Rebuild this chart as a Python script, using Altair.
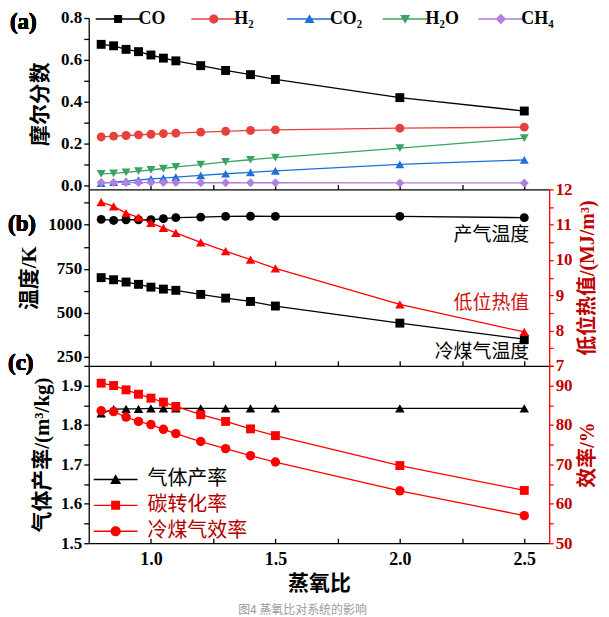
import altair as alt
import pandas as pd

# ---------------- data ----------------
steam_o2 = [0.8, 0.85, 0.9, 0.95, 1.0, 1.05, 1.1, 1.2, 1.3, 1.4, 1.5, 2.0, 2.5]

# (a) mole fractions
co = [0.674, 0.667, 0.650, 0.639, 0.623, 0.608, 0.595, 0.572, 0.549, 0.529, 0.506, 0.419, 0.355]
h2 = [0.231, 0.235, 0.238, 0.241, 0.244, 0.247, 0.249, 0.254, 0.258, 0.262, 0.265, 0.273, 0.278]
co2 = [0.010, 0.015, 0.020, 0.025, 0.030, 0.034, 0.039, 0.047, 0.055, 0.062, 0.069, 0.100, 0.121]
h2o = [0.054, 0.057, 0.062, 0.068, 0.073, 0.080, 0.088, 0.099, 0.112, 0.122, 0.132, 0.178, 0.225]
ch4 = [0.013, 0.013, 0.013, 0.013, 0.013, 0.013, 0.013, 0.012, 0.012, 0.012, 0.012, 0.011, 0.011]

# (b) temperatures (K) and lower heating value (MJ/m3)
gas_temp = [1030, 1024, 1028, 1028, 1028, 1034, 1040, 1043, 1047, 1048, 1047, 1047, 1040]
cold_gas_temp = [700, 688, 675, 662, 646, 635, 628, 605, 584, 565, 539, 442, 351]
lhv = [11.64, 11.52, 11.33, 11.21, 11.05, 10.91, 10.77, 10.50, 10.25, 10.01, 9.76, 8.74, 7.96]

# (c) gas yield (m3/kg) and efficiencies (%)
gas_yield = [1.829, 1.840, 1.841, 1.841, 1.842, 1.842, 1.842, 1.842, 1.842, 1.842, 1.842, 1.842, 1.842]
carbon_conv = [90.6, 90.0, 88.9, 87.8, 86.8, 85.8, 84.7, 82.6, 80.9, 79.0, 77.3, 69.7, 63.4]
cold_gas_eff = [83.6, 83.4, 82.0, 80.9, 80.1, 78.9, 77.8, 75.8, 74.0, 72.2, 70.6, 63.3, 57.0]

# legend / annotation texts
gas_names = ["CO", "H₂", "CO₂", "H₂O", "CH₄"]
gas_colors = ["#000000", "#e8403f", "#1f6fdc", "#3aa35f", "#b07fe0"]
perf_names = ["气体产率", "碳转化率", "冷煤气效率"]
perf_colors = ["#000000", "#ff0000", "#ff0000"]
anno_text = ["产气温度", "低位热值", "冷煤气温度"]
anno_x = [2.52, 2.52, 2.52]
anno_y = [939, 556, 278]
anno_color = ["#000000", "#d01010", "#000000"]

df = pd.DataFrame({
    "x": steam_o2, "CO": co, "H2": h2, "CO2": co2, "H2O": h2o, "CH4": ch4,
    "gt": gas_temp, "ct": cold_gas_temp, "lhv": lhv,
    "gy": gas_yield, "cc": carbon_conv, "ce": cold_gas_eff,
})
anno_df = pd.DataFrame({"t": anno_text, "x": anno_x, "y": anno_y, "c": anno_color})

SERIF = "Liberation Serif, Noto Sans CJK SC"
DARKRED = "#c00000"
W = 462

XS = alt.Scale(domain=[0.75, 2.6], nice=False, zero=False)
x_tick_vals = [1.0, 1.25, 1.5, 1.75, 2.0, 2.25, 2.5]


def x_axis(show):
    if show:
        return alt.Axis(values=x_tick_vals, tickSize=alt.ExprRef(expr="-5"),
                        labelExpr="datum.value % 0.5 == 0 ? format(datum.value, '.1f') : ''",
                        labelPadding=12, title="蒸氧比", titlePadding=4,
                        labelFontSize=18)
    return alt.Axis(values=x_tick_vals, tickSize=alt.ExprRef(expr="-5"),
                    labels=False, title=None)


def right_axis(vals, expr, title):
    return alt.Axis(orient="right", values=vals, labelExpr=expr, title=title,
                    titleAngle=270, titleBaseline="top", domainColor="#ff0000",
                    tickColor="#ff0000", labelColor=DARKRED, titleColor=DARKRED,
                    tickSize=4, labelPadding=2, titlePadding=5, titleFontSize=20)


def series(field, color, shape, xax, ysc, yax, size=80):
    base = alt.Chart(df).encode(
        x=alt.X("x:Q", scale=XS, axis=xax),
        y=alt.Y(f"{field}:Q", scale=ysc, axis=yax),
    )
    return [
        base.mark_line(color=color, strokeWidth=1.3),
        base.mark_point(filled=True, shape=shape, size=size, color=color, opacity=1),
    ]


def legend_paths(length, half):
    m = length / 2
    bar = f"M0,-0.7H{length}V0.7H0Z"
    sq = f"{bar} M{m-half},-{half}H{m+half}V{half}H{m-half}Z"
    r = half + 0.6
    circ = f"{bar} M{m+r},0A{r},{r} 0 1,1 {m-r},0A{r},{r} 0 1,1 {m+r},0Z"
    tu = f"{bar} M{m},-{half+0.8}L{m+half+1},{half}H{m-half-1}Z"
    td = f"{bar} M{m-half-1},-{half}H{m+half+1}L{m},{half+0.8}Z"
    dia = f"{bar} M{m},-{half+1.2}L{m+half+1.2},0L{m},{half+1.2}L{m-half-1.2},0Z"
    return {"square": sq, "circle": circ, "tu": tu, "td": td, "diamond": dia}


# ---------------- panel (a) ----------------
ya = alt.Scale(domain=[-0.02, 0.8], nice=False, zero=False)
ya_axis = alt.Axis(values=[round(i * 0.1, 1) for i in range(9)],
                   labelExpr="round(datum.value*10) % 2 == 0 ? format(datum.value, '.1f') : ''",
                   title="摩尔分数", tickSize=5, titlePadding=10)
xa = x_axis(False)
layers_a = []
for f, c, s in zip(["CO", "H2", "CO2", "H2O", "CH4"], gas_colors,
                   ["square", "circle", "triangle-up", "triangle-down", "diamond"]):
    layers_a += series(f, c, s, xa, ya, ya_axis)

pa = legend_paths(45, 4)
leg_a_df = pd.DataFrame({"sp": gas_names})
leg_props_a = dict(orient="none", legendX=-2, legendY=-8, direction="horizontal", columns=5,
                   title=None, symbolSize=4, labelOffset=34, labelFont=SERIF,
                   labelFontSize=18, labelFontWeight="bold", labelColor="black",
                   gridAlign="all", columnPadding=10, symbolStrokeWidth=0)
legend_a = alt.Chart(leg_a_df).mark_point(filled=True, size=4, opacity=1).encode(
    color=alt.Color("sp:N", scale=alt.Scale(domain=gas_names, range=gas_colors),
                    legend=alt.Legend(**leg_props_a)),
    shape=alt.Shape("sp:N", scale=alt.Scale(domain=gas_names,
                    range=[pa["square"], pa["circle"], pa["tu"], pa["td"], pa["diamond"]]),
                    legend=alt.Legend(**leg_props_a)),
).transform_filter("false")

lab_a = alt.Chart(df).mark_text(text="(a)", font=SERIF, fontSize=23, fontWeight="bold",
                                align="left", baseline="middle").encode(
    x=alt.value(-79), y=alt.value(4))

panel_a = alt.layer(*layers_a, legend_a, lab_a).properties(width=W, height=172)

# ---------------- panel (b) ----------------
yb = alt.Scale(domain=[200, 1200], nice=False, zero=False)
yb_axis = alt.Axis(values=[250 + 125 * i for i in range(8)],
                   labelExpr="datum.value % 250 == 0 ? format(datum.value, 'd') : ''",
                   title="温度/K", tickSize=5, titlePadding=8)
yb2 = alt.Scale(domain=[7, 12], nice=False, zero=False)
yb2_axis = right_axis([7 + 0.5 * i for i in range(11)],
                      "datum.value % 1 == 0 ? format(datum.value, 'd') : ''",
                      "低位热值/(MJ/m³)")
xb = x_axis(False)
left_b = series("gt", "#000000", "circle", xb, yb, yb_axis) + \
    series("ct", "#000000", "square", xb, yb, yb_axis)
anno = alt.Chart(anno_df).mark_text(font=SERIF, fontSize=19, align="right",
                                    baseline="middle").encode(
    x=alt.X("x:Q", scale=XS, axis=xb),
    y=alt.Y("y:Q", scale=yb, axis=yb_axis),
    text="t:N",
    color=alt.Color("c:N", scale=None),
)
lab_b = alt.Chart(df).mark_text(text="(b)", font=SERIF, fontSize=23, fontWeight="bold",
                                align="left", baseline="middle").encode(
    x=alt.value(-81), y=alt.value(35))
right_b = series("lhv", "#ff0000", "triangle-up", xb, yb2, yb2_axis, size=90)
panel_b = alt.layer(alt.layer(*left_b, anno, lab_b), alt.layer(*right_b)).resolve_scale(
    y="independent").properties(width=W, height=177)

# ---------------- panel (c) ----------------
yc = alt.Scale(domain=[1.5, 1.95], nice=False, zero=False)
yc_axis = alt.Axis(values=[round(1.5 + 0.05 * i, 2) for i in range(10)],
                   labelExpr="round(datum.value*100) % 10 == 0 ? format(datum.value, '.1f') : ''",
                   title="气体产率/(m³/kg)", tickSize=5, titlePadding=8)
yc2 = alt.Scale(domain=[50, 95], nice=False, zero=False)
yc2_axis = right_axis([50 + 5 * i for i in range(10)],
                      "datum.value % 10 == 0 ? format(datum.value, 'd') : ''", "效率/%")
xc = x_axis(True)
left_c = series("gy", "#000000", "triangle-up", xc, yc, yc_axis, size=90)
right_c = series("cc", "#ff0000", "square", xc, yc2, yc2_axis) + \
    series("ce", "#ff0000", "circle", xc, yc2, yc2_axis, size=90)

pc = legend_paths(44, 4.5)
leg_c_df = pd.DataFrame({"pf": perf_names})
leg_props_c = dict(orient="none", legendX=-5, legendY=104, direction="vertical",
                   title=None, symbolSize=4, labelOffset=44, labelFont=SERIF,
                   labelFontSize=20, labelFontWeight="normal",
                   labelColor=alt.ExprRef(expr="datum.label == '气体产率' ? '#000000' : '#b00000'"),
                   rowPadding=6, symbolStrokeWidth=0)
legend_c = alt.Chart(leg_c_df).mark_point(filled=True, size=4, opacity=1).encode(
    color=alt.Color("pf:N", scale=alt.Scale(domain=perf_names, range=perf_colors),
                    legend=alt.Legend(**leg_props_c)),
    shape=alt.Shape("pf:N", scale=alt.Scale(domain=perf_names,
                    range=[pc["tu"], pc["square"], pc["circle"]]),
                    legend=alt.Legend(**leg_props_c)),
).transform_filter("false")
lab_c = alt.Chart(df).mark_text(text="(c)", font=SERIF, fontSize=23, fontWeight="bold",
                                align="left", baseline="middle").encode(
    x=alt.value(-81), y=alt.value(-3))

panel_c = alt.layer(alt.layer(*left_c, legend_c, lab_c), alt.layer(*right_c)).resolve_scale(
    y="independent").properties(width=W, height=178)

chart = alt.vconcat(panel_a, panel_b, panel_c, spacing=0, bounds="flush").resolve_scale(
    color="independent", shape="independent"
).properties(
    padding={"left": 0, "top": 0, "right": 4, "bottom": 4},
    title=alt.Title("图4 蒸氧比对系统的影响", orient="bottom", fontSize=12, color="#9a9a9a",
                    font="Noto Sans CJK SC", fontWeight="normal", anchor="middle", offset=12),
).configure_view(stroke=None).configure_axis(
    labelFont=SERIF, labelFontSize=17, labelFontWeight="bold", labelColor="black",
    titleFont=SERIF, titleFontSize=21, titleFontWeight="bold", titleColor="black",
    domainColor="black", tickColor="black", domainWidth=1.3, tickWidth=1.3, grid=False,
)

chart.save("out.html", embed_options={"renderer": "svg", "actions": False})
